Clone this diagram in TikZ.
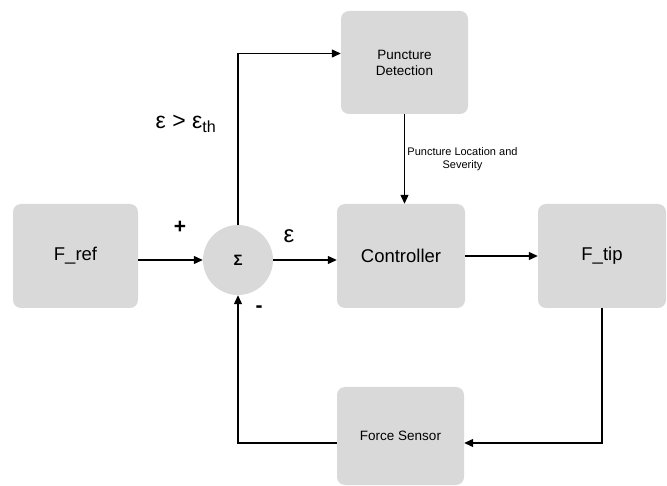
\documentclass[tikz,border=0pt]{standalone}
\usepackage{fontspec}
\setmainfont{Liberation Sans}
\usepackage{tikz}
\usetikzlibrary{arrows.meta}
\usepackage{xcolor}
\definecolor{blockgray}{RGB}{217,217,217}

\begin{document}
\begin{tikzpicture}[x=1pt,y=-1pt,
    block/.style={fill=blockgray,rounded corners=8pt,inner sep=0pt,align=center},
    bigtext/.style={font=\fontsize{18.5}{21}\selectfont},
    smalltext/.style={font=\fontsize{13.5}{16}\selectfont},
    sig/.style={line width=1.2pt,-{Triangle[length=9pt,width=8pt]}}]
    \useasboundingbox (0,0) rectangle (667,486);

    % Positions of the blocks
    \coordinate (Ref) at (75.5,256);
    \coordinate (Sum) at (238,260);
    \coordinate (Ctrl) at (401,256);
    \coordinate (Tip) at (602,256);
    \coordinate (Detect) at (404.5,62.5);
    \coordinate (Sensor) at (400.5,436);

    % Blocks
    \node (fref) at (Ref) [block,bigtext,minimum width=125pt,minimum height=104pt] {F\_ref};
    \node (sum) at (Sum) [circle,fill=blockgray,minimum size=70pt,inner sep=0pt,
        font=\fontsize{15}{17}\selectfont\bfseries] {Σ};
    \node (ctrl) at (Ctrl) [block,bigtext,minimum width=128pt,minimum height=104pt] {Controller};
    \node (ftip) at (Tip) [block,bigtext,minimum width=128pt,minimum height=104pt] {F\_tip};
    \node (detect) at (Detect) [block,smalltext,minimum width=127pt,minimum height=103pt] {Puncture\\Detection};
    \node (sensor) at (Sensor) [block,smalltext,minimum width=127pt,minimum height=98pt] {Force Sensor};

    % Forward path
    \draw [sig] (fref.east |- sum) to (sum.west);
    \draw [sig] (sum.east) to (sum.east -| ctrl.west);
    \draw [sig] (ctrl.east |- ftip.west) to (ftip.west);

    % Threshold branch to the detector
    \draw [sig] (sum.north) |- ([yshift=9pt]detect.west);
    \draw [sig] (detect.south) to node [right,xshift=-1pt,align=center,
        font=\fontsize{11}{13.5}\selectfont] {Puncture Location and\\Severity}
        (detect.south |- ctrl.north);

    % Feedback loop
    \draw [sig] (ftip.south) |- ([yshift=-7pt]sensor.east);
    \draw [sig] ([yshift=-7pt]sensor.west) -| (sum.south);

    % Signs and error labels
    \node (plus) at (180,227) [font=\fontsize{21}{23}\selectfont\bfseries] {+};
    \node (minus) at (259,309) [font=\fontsize{21}{23}\selectfont\bfseries] {-};
    \node (err) at (289,236) [font=\fontsize{24}{26}\selectfont] {ε};
    \node (thresh) at (186,124) [font=\fontsize{23}{26}\selectfont] {ε > ε\textsubscript{th}};
\end{tikzpicture}
\end{document}
